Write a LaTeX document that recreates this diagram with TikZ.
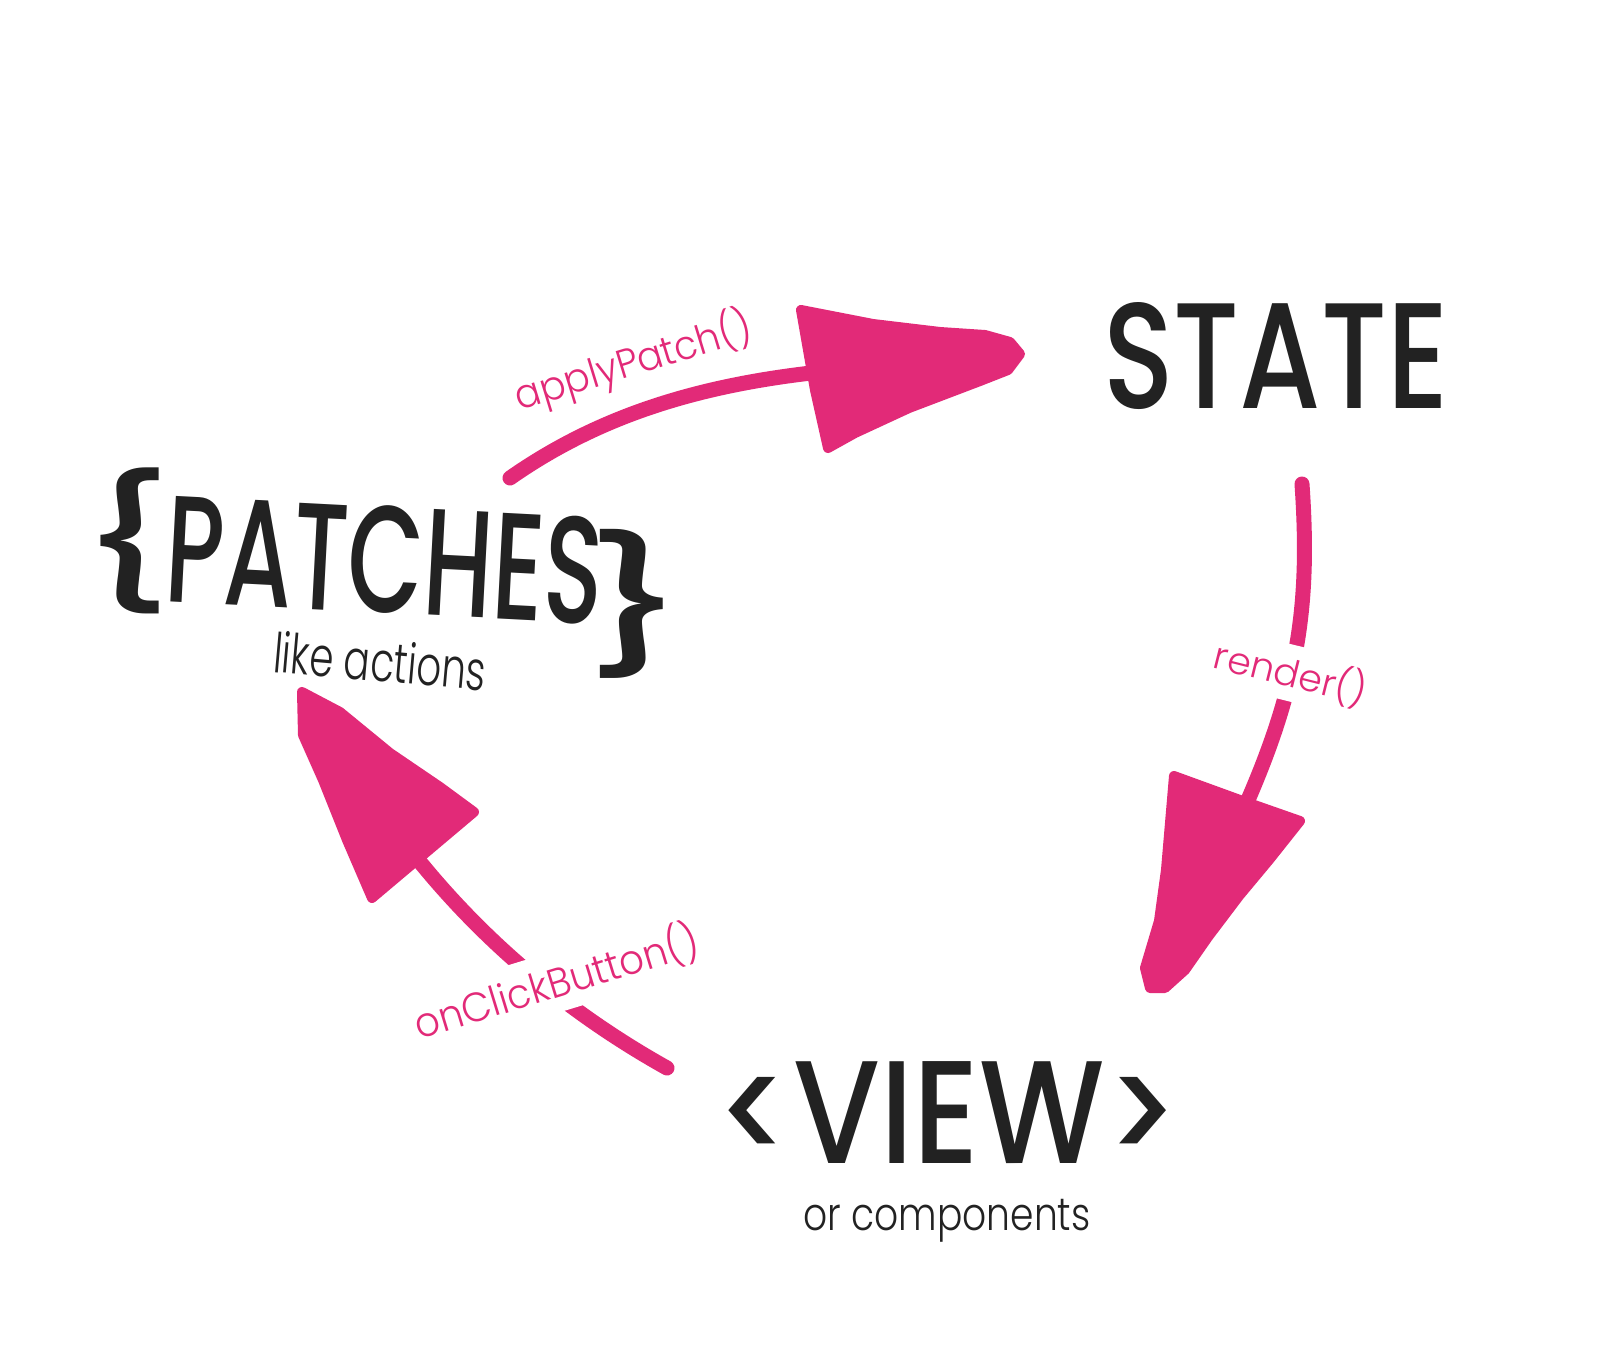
\documentclass[tikz,border=0pt]{standalone}
\usepackage{fontspec}
\setmainfont{Poppins}
\newfontfamily\hand{Poppins Light}
\newfontfamily\marker{Poppins Medium}
\definecolor{ink}{RGB}{34,34,34}
\definecolor{pink}{RGB}{226,42,120}
\tikzset{
  big/.style={inner sep=0pt, text=ink, font=\marker},
  sub/.style={inner sep=0pt, text=ink, font=\hand},
  lbl/.style={inner sep=0pt, text=pink, font=\hand},
  gap/.style={fill=white, inner sep=0.07cm},
  shaft/.style={draw=pink, line width=0.15cm, line cap=round},
  head/.style={fill=pink, draw=pink, line width=0.1cm, line join=round},
}
\begin{document}
\begin{tikzpicture}[x=0.01cm,y=-0.01cm]
\useasboundingbox (0,0) rectangle (1605,1360);
\fill[white] (0,0) rectangle (1605,1360);

% big labels
\node[big] (state) at (1276,356) {\resizebox*{3.45cm}{1.07cm}{STATE}};
\node[big, rotate=-3] (patches) at (385,560) {\resizebox*{4.37cm}{1.08cm}{PATCHES}};
\node[big] (lbrace) at (127,541) {\resizebox*{1.0cm}{1.46cm}{\{}};
\node[big] (rbrace) at (636,604) {\resizebox*{1.08cm}{1.49cm}{\}}};
\node[big] (view) at (948,1113) {\resizebox*{4.62cm}{1.02cm}{<VIEW>}};

% sub labels
\node[sub, rotate=-5] (likeact) at (380,661) {\resizebox*{2.13cm}{0.42cm}{like actions}};
\node[sub] (orcomp) at (947,1221) {\resizebox*{2.87cm}{0.43cm}{or components}};

% applyPatch() arrow
\coordinate (a0) at (510,478);
\coordinate (a1) at (820,372);
\draw[shaft] (a0) .. controls (600,415) and (700,385) .. (a1);
\filldraw[head] (801,310) -- (873,324) -- (940,332) -- (985,335) -- (1010,342)
  -- (1020,354) -- (1008,370) -- (980,381) -- (909,408) -- (855,433) -- (828,448)
  -- (815,390) -- cycle;

% render() arrow
\coordinate (r0) at (1302,484);
\coordinate (r1) at (1248,800);
\draw[shaft] (r0) .. controls (1310,600) and (1300,680) .. (r1);
\filldraw[head] (1174,776) -- (1240,800) -- (1300,821) -- (1269,860) -- (1239,896)
  -- (1208,937) -- (1185,970) -- (1165,988) -- (1150,988) -- (1145,968)
  -- (1159,921) -- (1166,870) -- cycle;

% onClickButton() arrow
\coordinate (c0) at (667,1068);
\coordinate (c1) at (420,862);
\draw[shaft] (c0) .. controls (590,1025) and (500,960) .. (c1);
\filldraw[head] (302,692) -- (340,712) -- (390,753) -- (440,787) -- (474,812)
  -- (372,898) -- (347,840) -- (323,780) -- (303,735) -- cycle;

% connector labels
\node[lbl, rotate=17] (lapply) at (633,362) {\resizebox*{2.45cm}{0.48cm}{applyPatch()}};
\node[lbl, gap, rotate=-14] (lrender) at (1291,673) {\resizebox*{1.56cm}{0.42cm}{render()}};
\node[lbl, gap, rotate=17] (lclick) at (556,982) {\resizebox*{2.95cm}{0.46cm}{onClickButton()}};
\end{tikzpicture}
\end{document}
